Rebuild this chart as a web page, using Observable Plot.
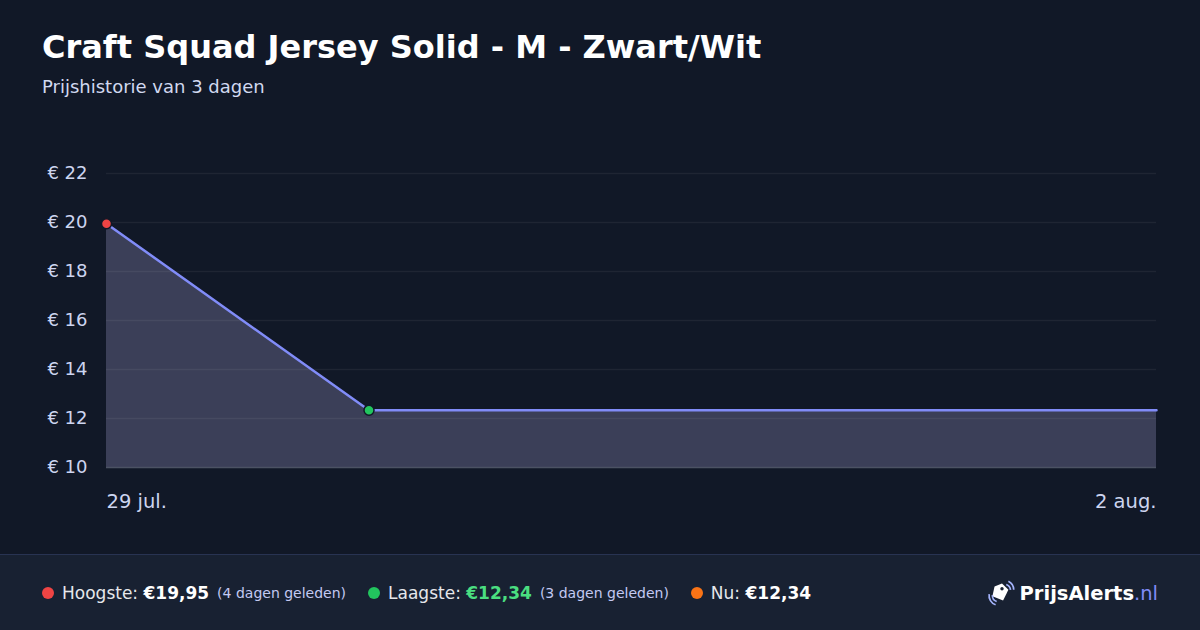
<!DOCTYPE html>
<html>
<head>
<meta charset="utf-8">
<script src="https://cdn.jsdelivr.net/npm/d3@7"></script>
<script src="https://cdn.jsdelivr.net/npm/@observablehq/plot@0.6"></script>
<style>
  html, body { margin: 0; padding: 0; background: #111827; width: 1200px; height: 630px; overflow: hidden; font-family: "DejaVu Sans", sans-serif; }
  #wrap { position: relative; width: 1200px; height: 630px; }
  #title { position: absolute; left: 42px; top: 28px; font-size: 32px; font-weight: bold; color: #ffffff; white-space: nowrap; }
  #subtitle { position: absolute; left: 42px; top: 76px; font-size: 18px; color: #d1d9f0; white-space: nowrap; }
  #chart { position: absolute; left: 0; top: 130px; }
  #footer { position: absolute; left: 0; top: 554px; width: 1200px; height: 76px; background: #182132; border-top: 1px solid #283352; box-sizing: border-box; }
  #stats { position: absolute; left: 42px; top: 0; height: 76px; display: flex; align-items: center; font-size: 17px; color: #e5e7eb; white-space: nowrap; }
  .dot { display: inline-block; width: 12px; height: 12px; border-radius: 50%; margin-right: 8px; }
  .val { font-weight: bold; color: #ffffff; }
  .ago { font-size: 14px; color: #c3c9f2; margin-left: 8px; }
  .item { display: flex; align-items: center; margin-right: 22px; }
  #logo { position: absolute; right: 42px; top: 0; height: 76px; display: flex; align-items: center; font-size: 19.5px; white-space: nowrap; }
  #logo .b { font-weight: bold; color: #ffffff; }
  #logo .nl { color: #818cf8; }
</style>
</head>
<body>
<div id="wrap">
  <div id="title">Craft Squad Jersey Solid - M - Zwart/Wit</div>
  <div id="subtitle">Prijshistorie van 3 dagen</div>
  <div id="chart"></div>
  <div id="footer">
    <div id="stats">
      <div class="item"><span class="dot" style="background:#ef4444"></span>Hoogste:&nbsp;<span class="val">€19,95</span><span class="ago">(4 dagen geleden)</span></div>
      <div class="item"><span class="dot" style="background:#22c55e"></span>Laagste:&nbsp;<span class="val" style="color:#4ade80">€12,34</span><span class="ago">(3 dagen geleden)</span></div>
      <div class="item"><span class="dot" style="background:#f97316"></span>Nu:&nbsp;<span class="val">€12,34</span></div>
    </div>
    <div id="logo">
      <svg width="32" height="32" viewBox="0 0 30 30" style="margin-right:2px">
        <path d="M8 9 L15 6 L21 12 L16 22 L6 18 Z" fill="#ffffff"/>
        <circle cx="15" cy="11" r="1.6" fill="#182132"/>
        <path d="M21 4 A9 9 0 0 1 26 12" stroke="#a5b4fc" stroke-width="1.6" fill="none"/>
        <path d="M19 7 A6 6 0 0 1 23 12" stroke="#a5b4fc" stroke-width="1.6" fill="none"/>
        <path d="M3 16 A9 9 0 0 0 9 26" stroke="#a5b4fc" stroke-width="1.6" fill="none"/>
        <path d="M6 17 A6 6 0 0 0 10 23" stroke="#a5b4fc" stroke-width="1.6" fill="none"/>
      </svg>
      <span class="b">PrijsAlerts</span><span class="nl">.nl</span>
    </div>
  </div>
</div>
<script>
const dates = ["2024-07-29", "2024-07-30", "2024-08-02"];
const prices = [19.95, 12.34, 12.34];
const yTicks = [10, 12, 14, 16, 18, 20, 22];
const xTickDates = ["2024-07-29", "2024-08-02"];
const xTickLabels = ["29 jul.", "2 aug."];
const highIndex = 0;
const lowIndex = 1;

const data = dates.map((d, i) => ({date: new Date(d + "T00:00:00"), price: prices[i]}));
const tickDates = xTickDates.map(d => new Date(d + "T00:00:00"));
const labelFor = new Map(tickDates.map((d, i) => [+d, xTickLabels[i]]));

const chart = Plot.plot({
  width: 1200,
  height: 410,
  marginLeft: 106,
  marginRight: 44,
  marginTop: 43,
  marginBottom: 73,
  style: {background: "transparent", fontFamily: "DejaVu Sans, sans-serif", fontSize: "18px", color: "#cdd5f0"},
  x: {type: "time", domain: [tickDates[0], tickDates[1]], label: null},
  y: {domain: [10, 22], label: null},
  marks: [
    Plot.areaY(data, {x: "date", y: "price", y1: 10, fill: "#3b3f58"}),
    Plot.gridY(yTicks.filter(t => t > 10), {stroke: "#ffffff", strokeOpacity: 0.06, strokeWidth: 1.5}),
    Plot.ruleY([10], {stroke: "#4b5263", strokeWidth: 1.5}),
    Plot.lineY(data, {x: "date", y: "price", stroke: "#818cf8", strokeWidth: 2.5}),
    Plot.axisY(yTicks, {tickSize: 0, tickPadding: 19, label: null, tickFormat: d => "€ " + d, fill: "#cdd5f0", fontSize: 18}),
    Plot.axisX([tickDates[0]], {tickSize: 0, tickPadding: 27, label: null, textAnchor: "start", tickFormat: d => labelFor.get(+d), fill: "#cdd5f0", fontSize: 19.5}),
    Plot.axisX([tickDates[1]], {tickSize: 0, tickPadding: 27, label: null, textAnchor: "end", tickFormat: d => labelFor.get(+d), fill: "#cdd5f0", fontSize: 19.5}),
    Plot.dot([data[highIndex]], {x: "date", y: "price", r: 5, fill: "#ef4444", stroke: "#111827", strokeWidth: 1.5}),
    Plot.dot([data[lowIndex]], {x: "date", y: "price", r: 5, fill: "#22c55e", stroke: "#111827", strokeWidth: 1.5})
  ]
});
document.getElementById("chart").appendChild(chart);
</script>
</body>
</html>
